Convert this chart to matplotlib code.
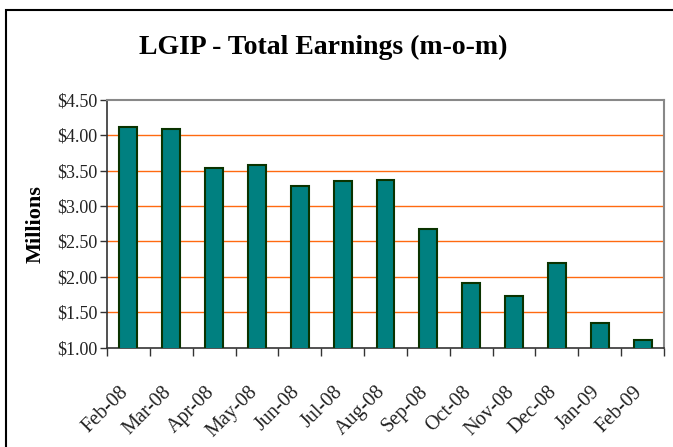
import matplotlib
matplotlib.use("Agg")
import matplotlib.pyplot as plt
import matplotlib.patches as mpatches
from matplotlib.ticker import FuncFormatter, MultipleLocator
import matplotlib.transforms as mtransforms

months = ["Feb-08", "Mar-08", "Apr-08", "May-08", "Jun-08", "Jul-08", "Aug-08",
          "Sep-08", "Oct-08", "Nov-08", "Dec-08", "Jan-09", "Feb-09"]
earnings = [4.12, 4.09, 3.54, 3.58, 3.28, 3.35, 3.37, 2.68, 1.91, 1.73, 2.19, 1.34, 1.10]

plt.rcParams['font.family'] = ['Liberation Serif', 'DejaVu Serif']

def main():
    fig = plt.figure(figsize=(6.73, 4.47), dpi=100)
    # outer chart frame (runs off the right and bottom edges like the source)
    frame = mpatches.Rectangle((6 / 673, -0.05), 1.0, 1 - 10 / 447 + 0.05,
                               transform=fig.transFigure, fill=False,
                               edgecolor='black', linewidth=1.5, clip_on=False)
    fig.patches.append(frame)

    ax = fig.add_axes([107 / 673, 1 - 347.5 / 447, (664 - 107) / 673, (347.5 - 100) / 447])
    x = list(range(len(months)))
    ax.bar(x, earnings, width=0.42, bottom=0, color='#008080',
           edgecolor='#0a3300', linewidth=1.5, zorder=3)

    ax.set_xlim(-0.5, len(months) - 0.5)
    ax.set_ylim(1.0, 4.5)
    ax.yaxis.set_major_locator(MultipleLocator(0.5))
    ax.yaxis.set_major_formatter(FuncFormatter(lambda v, p: "${:.2f}".format(v)))
    for v in [1.5, 2.0, 2.5, 3.0, 3.5, 4.0]:
        ax.axhline(v, color='#ff6a10', linewidth=1.0, zorder=1)

    ax.set_xticks([i - 0.5 for i in range(len(months) + 1)])
    ax.set_xticklabels([])
    ax.tick_params(axis='x', direction='out', length=6, width=1, color='#333333')
    ax.tick_params(axis='y', direction='out', length=5, width=1, color='#333333',
                   labelsize=13, pad=2, labelcolor='#222222')

    offset = mtransforms.ScaledTranslation(4 / 100, -35 / 100, fig.dpi_scale_trans)
    trans = mtransforms.blended_transform_factory(ax.transData, ax.transAxes) + offset
    for i, m in enumerate(months):
        ax.text(i, 0.0, m, rotation=45, ha='right', va='top', fontsize=14.5,
                color='#222222', transform=trans)

    for s in ['left', 'bottom']:
        ax.spines[s].set_color('#333333')
        ax.spines[s].set_linewidth(1.2)
    for s in ['top', 'right']:
        ax.spines[s].set_color('#888888')
        ax.spines[s].set_linewidth(1.5)

    ax.set_ylabel("Millions", fontsize=16, fontweight='bold', labelpad=8)
    fig.text(323 / 673, 1 - 47 / 447, "LGIP - Total Earnings (m-o-m)",
             ha='center', va='center', fontsize=20, fontweight='bold')

    fig.savefig("out.png", dpi=100)

if __name__ == "__main__":
    main()
